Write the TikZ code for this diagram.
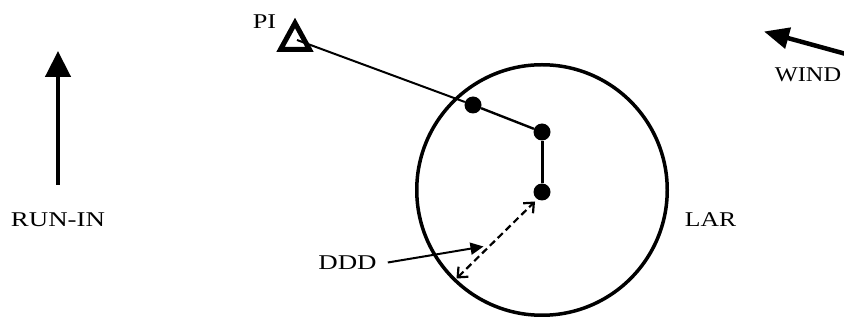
\documentclass[tikz,border=0pt]{standalone}
\usepackage{fontspec}
\setmainfont{Liberation Serif}
\usetikzlibrary{arrows.meta}
\begin{document}
\begin{tikzpicture}[x=1pt,y=-1pt,
  lbl/.style={inner sep=0pt, font=\fontsize{21}{25}\selectfont},
  dotnode/.style={circle, fill=black, inner sep=0pt, minimum size=17pt},
  bigarrow/.style={line width=4.5pt, -{Triangle[length=26pt,width=25pt]}}]
\useasboundingbox (0,0) rectangle (844,320);
% labels
\node[lbl] (runin) at (58,219.5) {\scalebox{1.28}[1]{RUN-IN}};
\node[lbl] (pi) at (264.5,21.5) {\scalebox{1.25}[1]{PI}};
\node[lbl] (ddd) at (347.5,262.5) {\scalebox{1.28}[1]{DDD}};
\node[lbl] (lar) at (710.5,219.5) {\scalebox{1.22}[1]{LAR}};
\node[lbl] (wind) at (808,74.5) {\scalebox{1.16}[1]{WIND}};
% run-in arrow
\coordinate (rb) at (58,185);
\coordinate (rt) at (58,51);
\draw[bigarrow] (rb) -- (rt);
% wind arrow
\coordinate (wb) at (846,54);
\coordinate (wt) at (764,31.5);
\draw[line width=4.5pt, -{Triangle[length=25pt,width=21pt]}] (wb) -- (wt);
% LAR circle
\node[draw, circle, line width=3.5pt, minimum size=250.5pt, inner sep=0pt] (lar circle) at (542,190) {};
% PI triangle
\draw[line width=5pt, line join=miter] (295,23) -- (280.5,49.5) -- (309.5,49.5) -- cycle;
\coordinate (pistart) at (297,40);
% dots
\node[dotnode] (d1) at (473,105) {};
\node[dotnode] (d2) at (542,132) {};
\node[dotnode] (d3) at (542,192) {};
\draw[line width=2pt] (pistart) -- (d1);
\draw[line width=2.4pt] (d1) -- (d2);
\draw[line width=3pt] (d2) -- (d3);
% DDD dashed double arrow
\coordinate (da) at (456.5,278.5);
\coordinate (db) at (535,201.5);
\draw[line width=2.2pt, dash pattern=on 7pt off 4pt,
  {Straight Barb[length=8pt,width=14pt,line width=2.2pt]}-{Straight Barb[length=8pt,width=14pt,line width=2.2pt]}] (da) -- (db);
% DDD pointer
\coordinate (dp) at (483.5,246.5);
\draw[line width=2pt, -{Triangle[length=13pt,width=12pt]}] ([xshift=11pt]ddd.east) -- (dp);
\end{tikzpicture}
\end{document}
